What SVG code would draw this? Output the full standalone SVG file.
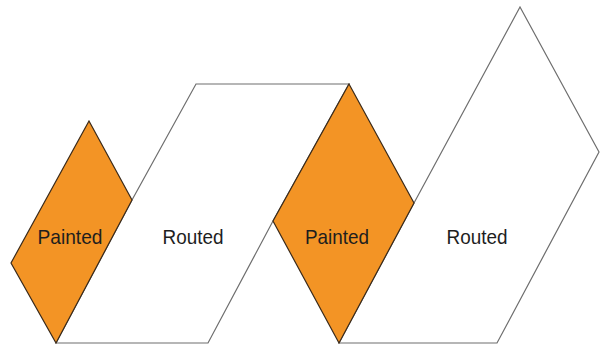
<svg xmlns="http://www.w3.org/2000/svg" width="601" height="352" viewBox="0 0 601 352">
<style>
.painted{fill:#f39425;stroke:#3a2a1a;stroke-width:1.2;stroke-linejoin:miter}
.routed{fill:#ffffff;stroke:#6e6e6e;stroke-width:1.2;stroke-linejoin:miter}
.lbl{font-family:"Liberation Sans",Arial,sans-serif;font-size:21px;fill:#1e1e1e;text-anchor:middle}
</style>
<rect width="601" height="352" fill="#ffffff"/>
<g id="routed1">
<polygon class="routed" points="56,343 132,200 196,84 349,84 273,221 208,343"/>
<text class="lbl" x="193" y="244" textLength="61" lengthAdjust="spacingAndGlyphs">Routed</text>
</g>
<g id="routed2">
<polygon class="routed" points="339,343 414,203 520,7 599,152 497,343"/>
<text class="lbl" x="477" y="244" textLength="61" lengthAdjust="spacingAndGlyphs">Routed</text>
</g>
<g id="painted1">
<polygon class="painted" points="89,121 132,200 56,343 11,263"/>
<text class="lbl" x="70" y="244" textLength="65" lengthAdjust="spacingAndGlyphs">Painted</text>
</g>
<g id="painted2">
<polygon class="painted" points="349,84 414,203 339,343 273,221"/>
<text class="lbl" x="337" y="244" textLength="64" lengthAdjust="spacingAndGlyphs">Painted</text>
</g>
<g id="connectors"/>
</svg>
